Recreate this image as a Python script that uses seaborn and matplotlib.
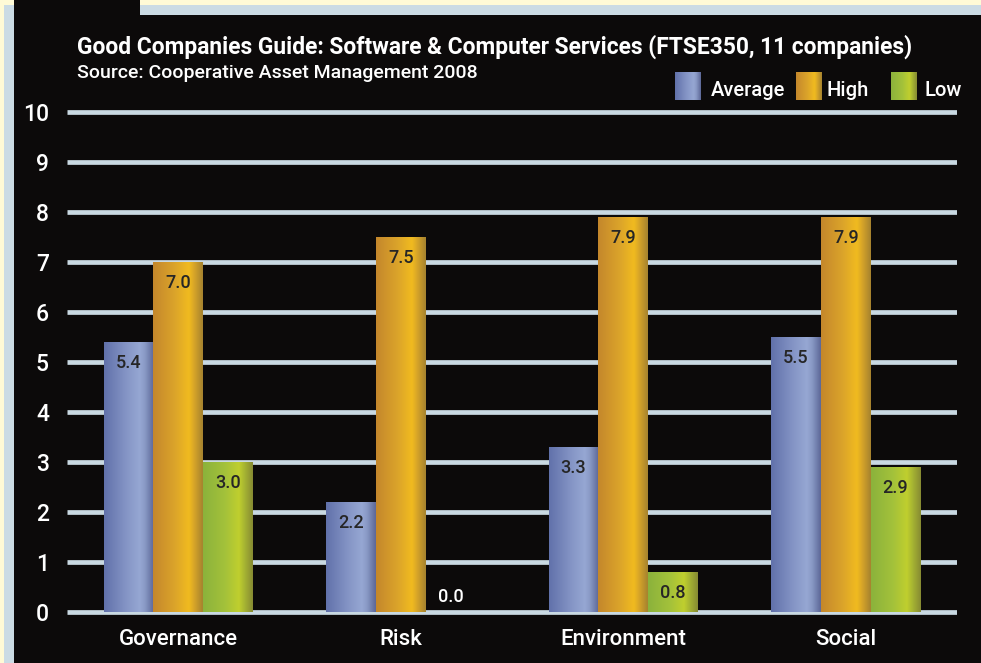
import numpy as np
import pandas as pd
import matplotlib
matplotlib.use('Agg')
import matplotlib.pyplot as plt
from matplotlib.colors import LinearSegmentedColormap
from matplotlib.patches import Rectangle
import seaborn as sns

# --- data -------------------------------------------------------------------
categorias = ['Governance', 'Risk', 'Environment', 'Social']
series = ['Average', 'High', 'Low']
media = [5.4, 2.2, 3.3, 5.5]
alta = [7.0, 7.5, 7.9, 7.9]
baixa = [3.0, 0.0, 0.8, 2.9]
y_ticks = list(range(0, 11))

titulo = 'Good Companies Guide: Software & Computer Services (FTSE350, 11 companies)'
subtitulo = 'Source: Cooperative Asset Management 2008'

df = pd.DataFrame({
    'Categoria': categorias * 3,
    'Serie': [s for s in series for _ in categorias],
    'Valor': media + alta + baixa,
})

# --- colours ----------------------------------------------------------------
BG = '#0c0a0a'
YELLOW = '#fffad6'
STRIPE = '#cbdbe4'
GRID = '#c9d9e2'
gradientes = {
    'Average': ['#6171aa', '#8595c6', '#96a7d3', '#8a9ac6', '#5c6797'],
    'High': ['#c4872c', '#dca52a', '#f1bb1f', '#d8a628', '#a5822f'],
    'Low': ['#8bb23c', '#a4c23a', '#c0cf2e', '#a9b832', '#868a33'],
}
stops = [0.0, 0.45, 0.72, 0.82, 1.0]
cmaps = {k: LinearSegmentedColormap.from_list(k, list(zip(stops, v))) for k, v in gradientes.items()}
paleta = {k: v[2] for k, v in gradientes.items()}
grad = np.linspace(0, 1, 256).reshape(1, -1)

W, H = 981, 663
plt.rcParams['font.family'] = ['Roboto', 'DejaVu Sans']
plt.rcParams['font.weight'] = 500
fig = plt.figure(figsize=(W / 100, H / 100), dpi=100, facecolor=YELLOW)

def px_rect(x0, y0, x1, y1, cor):
    """retangulo em pixels (origem no topo)"""
    r = Rectangle((x0 / W, 1 - y1 / H), (x1 - x0) / W, (y1 - y0) / H,
                  transform=fig.transFigure, facecolor=cor,
                  edgecolor='none', zorder=-10)
    fig.patches.append(r)

px_rect(4, 5, 981, 663, STRIPE)
px_rect(14, 0, 140, 15, BG)
px_rect(14, 15, 981, 663, BG)

ax = fig.add_axes([67 / W, (H - 625) / H, (957 - 67) / W, (625 - 100) / H])
ax.set_facecolor('none')

sns.barplot(data=df, x='Categoria', y='Valor', hue='Serie', order=categorias,
            hue_order=series, palette=paleta, width=0.67, ax=ax,
            legend=False, zorder=3)

# gradient fill for each bar
for cont, serie in zip(ax.containers, series):
    for bar in cont:
        x0, y0 = bar.get_x(), bar.get_y()
        w, h = bar.get_width(), bar.get_height()
        bar.set_facecolor('none')
        bar.set_edgecolor('none')
        if h <= 0:
            continue
        im = ax.imshow(grad, cmap=cmaps[serie], extent=[x0, x0 + w, y0, y0 + h],
                       aspect='auto', zorder=3, interpolation='bicubic')
        im.set_clip_path(bar)

# value labels
for cont in ax.containers:
    for bar in cont:
        h = bar.get_height()
        xc = bar.get_x() + bar.get_width() / 2
        if h > 0.6:
            ax.text(xc, h - 0.42, f'{h:.1f}', ha='center', va='center',
                    fontsize=13, color='#262626', zorder=5)
        else:
            ax.text(xc, h + 0.3, f'{h:.1f}', ha='center', va='center',
                    fontsize=13, color='white', zorder=5)

ax.set_xlim(-0.5, 3.5)
ax.set_ylim(-0.26, 10.24)
ax.set_yticks(y_ticks)
ax.set_yticklabels([str(t) for t in y_ticks])
ax.yaxis.grid(True, color=GRID, linewidth=3.4, solid_capstyle='butt', zorder=1)
ax.set_axisbelow(True)
ax.xaxis.grid(False)
for s in ax.spines.values():
    s.set_visible(False)
ax.tick_params(axis='y', length=0, pad=13, labelsize=16.5, labelcolor='white')
ax.tick_params(axis='x', length=0, pad=3, labelsize=16, labelcolor='white')
ax.set_xlabel('')
ax.set_ylabel('')

# titles
fig.text(77 / W, 1 - 47 / H, titulo, fontsize=16.4, fontweight='bold',
         color='white', va='center', ha='left')
fig.text(77 / W, 1 - 73 / H, subtitulo, fontsize=14, color='white',
         va='center', ha='left')

# legend: gradient swatches + labels
leg_x = [675, 796, 891]
txt_x = [711, 827, 925]
for serie, lx, tx in zip(series, leg_x, txt_x):
    sw = fig.add_axes([lx / W, 1 - 100 / H, 26 / W, 28 / H])
    sw.imshow(grad, cmap=cmaps[serie], aspect='auto', interpolation='bicubic')
    sw.set_axis_off()
    fig.text(tx / W, 1 - 90 / H, serie, fontsize=14.5, color='white',
             va='center', ha='left')

fig.savefig('out.png', dpi=100, facecolor=YELLOW)
